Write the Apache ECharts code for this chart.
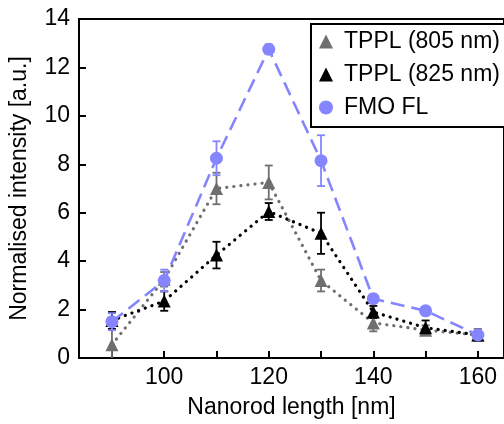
<!DOCTYPE html>
<html><head><meta charset="utf-8">
<script src="https://cdn.jsdelivr.net/npm/echarts@6/dist/echarts.min.js"></script>
<style>html,body{margin:0;padding:0;background:#fff}#c{width:504px;height:424px}</style>
</head><body><div id="c"></div>
<script>
const lengths = [90, 100, 110, 120, 130, 140, 150, 160];
const tppl805 = [0.55, 3.25, 7.0, 7.25, 3.2, 1.45, 1.15, 0.95];
const tppl805Err = [0.9, 0.3, 0.65, 0.7, 0.45, 0.35, 0.2, 0.25];
const tppl825 = [1.55, 2.35, 4.25, 6.05, 5.15, 1.9, 1.25, 0.95];
const tppl825Err = [0.35, 0.4, 0.55, 0.35, 0.85, 0.25, 0.3, 0.1];
const fmo = [1.5, 3.2, 8.25, 12.75, 8.15, 2.45, 1.95, 0.95];
const fmoErr = [0.35, 0.45, 0.7, 0.2, 1.05, 0.1, 0.1, 0.2];
const xTicks = [90, 100, 110, 120, 130, 140, 150, 160];
const xLabels = [100, 120, 140, 160];
const seriesNames = ['TPPL (805 nm)', 'TPPL (825 nm)', 'FMO FL'];

const GRAY = '#6f6f6f', BLACK = '#000000', BLUE = '#8585ff';
const FONT = 'Liberation Sans, Arial, sans-serif';

function pts(v) { return lengths.map((x, i) => [x, v[i]]); }
function errData(v, e) { return lengths.map((x, i) => [x, v[i] - e[i], v[i] + e[i]]); }
function errSeries(name, v, e, color) {
  return {
    type: 'custom', name: name, z: 3, clip: true,
    data: errData(v, e),
    renderItem: function (params, api) {
      const lo = api.coord([api.value(0), Math.max(0, api.value(1))]);
      const hi = api.coord([api.value(0), api.value(2)]);
      const w = 4;
      const st = { stroke: color, lineWidth: 1.8 };
      const children = [
        { type: 'line', shape: { x1: lo[0], y1: lo[1], x2: hi[0], y2: hi[1] }, style: st },
        { type: 'line', shape: { x1: hi[0] - w, y1: hi[1], x2: hi[0] + w, y2: hi[1] }, style: st }
      ];
      if (api.value(1) > 0) {
        children.push({ type: 'line', shape: { x1: lo[0] - w, y1: lo[1], x2: lo[0] + w, y2: lo[1] }, style: st });
      }
      return { type: 'group', children: children };
    },
    tooltip: { show: false }
  };
}

const chart = echarts.init(document.getElementById('c'), null, { renderer: 'canvas' });
chart.setOption({
  animation: false,
  textStyle: { fontFamily: FONT },
  grid: { left: 77, top: 19, width: 428, height: 344, show: true, borderColor: '#000', borderWidth: 2 },
  legend: {
    data: [
      { name: seriesNames[0], icon: 'triangle' },
      { name: seriesNames[1], icon: 'triangle' },
      { name: seriesNames[2], icon: 'circle' }
    ],
    orient: 'vertical', left: 311, top: 24,
    padding: [6, 40, 8, 8], itemGap: 10, itemWidth: 14, itemHeight: 14,
    borderColor: '#000', borderWidth: 2, backgroundColor: '#fff',
    textStyle: { fontSize: 23, fontFamily: FONT, color: '#000', padding: [0, 0, 0, 6], lineHeight: 23 }
  },
  xAxis: {
    type: 'value', min: 83.7, max: 165,
    name: 'Nanorod length [nm]', nameLocation: 'middle', nameGap: 38,
    nameTextStyle: { fontSize: 23, color: '#000', fontFamily: FONT },
    axisLine: { show: true, onZero: false, lineStyle: { color: '#000', width: 2 } },
    axisTick: { show: true, inside: true, length: 7, customValues: xTicks, lineStyle: { color: '#000', width: 2 } },
    axisLabel: { fontSize: 23, color: '#000', margin: 8, customValues: xLabels, fontFamily: FONT },
    splitLine: { show: false }
  },
  yAxis: {
    type: 'value', min: 0, max: 14, interval: 2,
    name: 'Normalised intensity [a.u.]', nameLocation: 'middle', nameGap: 48,
    nameTextStyle: { fontSize: 23, color: '#000', fontFamily: FONT },
    axisLine: { show: true, lineStyle: { color: '#000', width: 2 } },
    axisTick: { show: true, inside: true, length: 7, lineStyle: { color: '#000', width: 2 } },
    axisLabel: { fontSize: 23, color: '#000', margin: 9, fontFamily: FONT },
    splitLine: { show: false }
  },
  series: [
    errSeries('e805', tppl805, tppl805Err, GRAY),
    { type: 'line', name: seriesNames[0], data: pts(tppl805), z: 4,
      symbol: 'triangle', symbolSize: [13, 13],
      itemStyle: { color: GRAY },
      lineStyle: { color: GRAY, width: 3.2, type: [0.1, 7], cap: 'round' } },
    errSeries('e825', tppl825, tppl825Err, BLACK),
    { type: 'line', name: seriesNames[1], data: pts(tppl825), z: 5,
      symbol: 'triangle', symbolSize: [13, 13],
      itemStyle: { color: BLACK },
      lineStyle: { color: BLACK, width: 3.2, type: [0.1, 7], cap: 'round' } },
    errSeries('efmo', fmo, fmoErr, BLUE),
    { type: 'line', name: seriesNames[2], data: pts(fmo), z: 6,
      symbol: 'circle', symbolSize: 13,
      itemStyle: { color: BLUE },
      lineStyle: { color: BLUE, width: 2.6, type: [14, 7] } }
  ]
});
</script></body></html>
